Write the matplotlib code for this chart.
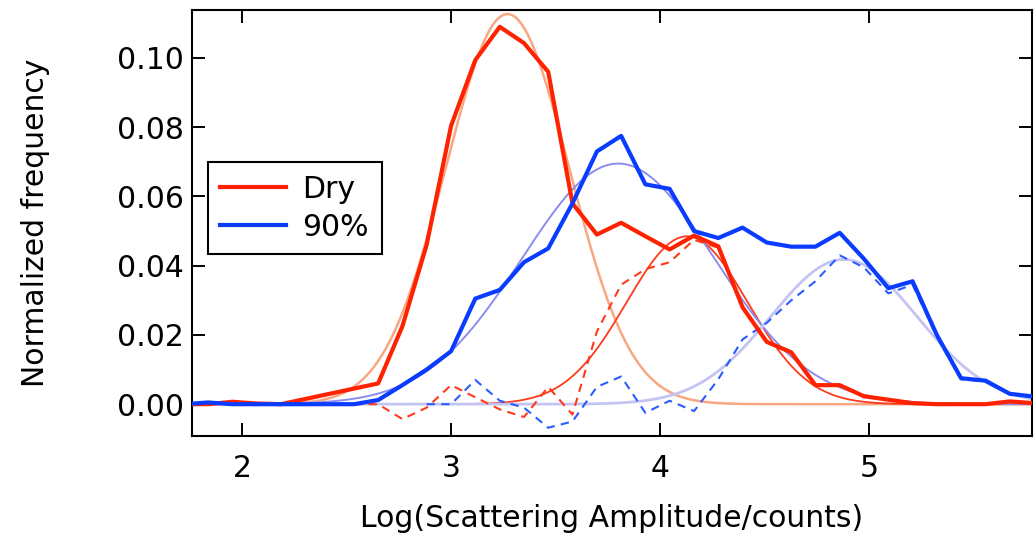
import numpy as np
import matplotlib
matplotlib.use("Agg")
import matplotlib.pyplot as plt

# bin centres, Log(scattering amplitude / counts)
log_amp = [1.721, 1.837, 1.953, 2.070, 2.186, 2.302, 2.418, 2.535, 2.651, 2.767,
           2.883, 3.000, 3.116, 3.233, 3.349, 3.465, 3.581, 3.698, 3.814, 3.930,
           4.046, 4.163, 4.279, 4.395, 4.511, 4.628, 4.744, 4.860, 4.976, 5.093,
           5.209, 5.325, 5.441, 5.558, 5.674, 5.790]

freq_dry = [0.0, 0.0, 0.0007, 0.0002, 0.0, 0.0015, 0.003, 0.0045, 0.006, 0.0225,
            0.046, 0.0804, 0.0994, 0.109, 0.1043, 0.096, 0.058, 0.049, 0.0524, 0.0485,
            0.0447, 0.0487, 0.0456, 0.028, 0.018, 0.015, 0.0055, 0.0055, 0.0023, 0.0013,
            0.0003, 0.0, 0.0, 0.0, 0.0008, 0.0003]

freq_90 = [0.0, 0.0005, 0.0, 0.0, 0.0, 0.0, 0.0, 0.0, 0.0012, 0.0055,
           0.010, 0.0153, 0.0305, 0.033, 0.041, 0.045, 0.058, 0.073, 0.0775, 0.0635,
           0.0622, 0.050, 0.048, 0.051, 0.0467, 0.0455, 0.0455, 0.0495, 0.042, 0.0335,
           0.0355, 0.020, 0.0075, 0.0068, 0.003, 0.0022]

# residuals after removing the first mode (dashed), from 2.535 / 2.883 on
resid_x_dry = log_amp[7:]
resid_dry = [0.0, 0.0, -0.0043, -0.001, 0.0055, 0.002, -0.0015, -0.0037, 0.005, -0.003,
             0.021, 0.0345, 0.039, 0.041, 0.0475, 0.0452, 0.0278, 0.0178, 0.0148, 0.0053,
             0.0054, 0.0022, 0.0013, 0.0003, 0.0, 0.0, 0.0, 0.0008, 0.0003]

resid_x_90 = log_amp[10:]
resid_90 = [0.0, 0.0, 0.007, 0.001, -0.001, -0.0068, -0.005, 0.005, 0.008, -0.0025,
            0.001, -0.002, 0.0072, 0.0187, 0.0235, 0.030, 0.0355, 0.043, 0.0395, 0.032,
            0.0345, 0.0195, 0.0072, 0.0066, 0.0028, 0.002]

# gaussian fit modes: centre, amplitude, width
fit_dry_centres = [3.27, 4.13]
fit_dry_amps = [0.1127, 0.0485]
fit_dry_widths = [0.295, 0.29]
fit_90_centres = [3.80, 4.88]
fit_90_amps = [0.0695, 0.0418]
fit_90_widths = [0.46, 0.35]

plt.rcParams['font.family'] = ['DejaVu Sans']
fs = 21.5

fig = plt.figure(figsize=(10.35, 5.37), dpi=100)
ax = fig.add_axes([0.1855, 0.188, 0.8115, 0.793])

xs = np.linspace(1.72, 5.85, 400)


def gauss(c, a, w):
    return a * np.exp(-(xs - c) ** 2 / (2 * w ** 2))


ax.plot(xs, gauss(fit_dry_centres[0], fit_dry_amps[0], fit_dry_widths[0]),
        color='#f7a882', lw=1.8, zorder=2)
ax.plot(xs, gauss(fit_dry_centres[1], fit_dry_amps[1], fit_dry_widths[1]),
        color='#ff3a1a', lw=1.3, zorder=2)
ax.plot(xs, gauss(fit_90_centres[0], fit_90_amps[0], fit_90_widths[0]),
        color='#8c8cf0', lw=1.4, zorder=2)
ax.plot(xs, gauss(fit_90_centres[1], fit_90_amps[1], fit_90_widths[1]),
        color='#c4c4f4', lw=2.0, zorder=2)

ax.plot(resid_x_dry, resid_dry, color='#ff3a1a', lw=1.5, ls=(0, (4, 3)), zorder=3)
ax.plot(resid_x_90, resid_90, color='#2a5cff', lw=1.5, ls=(0, (4, 3)), zorder=3)

ax.plot(log_amp, freq_dry, color='#ff2200', lw=3.0, label='Dry', zorder=4)
ax.plot(log_amp, freq_90, color='#0a3cff', lw=3.0, label='90%', zorder=4)

ax.set_xlim(1.76, 5.78)
ax.set_ylim(-0.0092, 0.1138)
ax.set_xticks([2, 3, 4, 5])
ax.set_yticks([0.0, 0.02, 0.04, 0.06, 0.08, 0.10])
ax.set_yticklabels(['0.00', '0.02', '0.04', '0.06', '0.08', '0.10'])

ax.tick_params(direction='in', length=9.5, width=1.4, labelsize=fs,
               top=True, right=True)
ax.tick_params(axis='x', pad=13)
ax.tick_params(axis='y', pad=6)
for sp in ax.spines.values():
    sp.set_linewidth(1.5)

ax.set_xlabel('Log(Scattering Amplitude/counts)', fontsize=fs, labelpad=15)
ax.set_ylabel('Normalized frequency', fontsize=fs, labelpad=48)

leg = ax.legend(loc='upper left', bbox_to_anchor=(0.019, 0.643), borderaxespad=0,
                fontsize=fs, frameon=True, fancybox=False, framealpha=1.0,
                edgecolor='black', handlelength=2.2, handletextpad=0.55,
                labelspacing=0.3, borderpad=0.42)
leg.get_frame().set_linewidth(1.5)

plt.savefig('out.png', dpi=100)
plt.close()
